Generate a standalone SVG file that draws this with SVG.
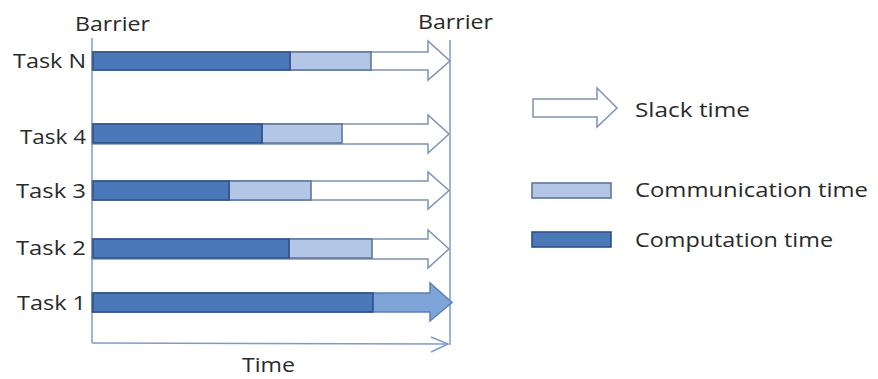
<svg xmlns="http://www.w3.org/2000/svg" width="878" height="379" viewBox="0 0 878 379">
<style>
text{font-family:"Open Sans","Liberation Sans",sans-serif;font-size:20px;fill:#2a2a2a}
.comp{fill:#4a78b8;stroke:#2f5288;stroke-width:1.6}
.comm{fill:#b3c6e5;stroke:#5f769c;stroke-width:1.6}
.slack{fill:#fff;stroke:#7f93b4;stroke-width:1.5}
.slack1{fill:#7fa4d8;stroke:#5c7fb5;stroke-width:1.5}
.axis{fill:none;stroke:#7f9cc8;stroke-width:1.5}
</style>
<rect width="878" height="379" fill="#fff"/>
<g id="axes">
<line class="axis" x1="92" y1="38" x2="92" y2="343"/>
<line class="axis" x1="450" y1="40" x2="450" y2="345"/>
<polyline class="axis" points="92,343 448,344"/>
<polyline class="axis" points="431,337 448,344 431,352"/>
</g>
<g id="labels">
<text x="75" y="31" textLength="75" lengthAdjust="spacingAndGlyphs">Barrier</text>
<text x="418" y="29" textLength="75" lengthAdjust="spacingAndGlyphs">Barrier</text>
<text x="242" y="372" textLength="53" lengthAdjust="spacingAndGlyphs">Time</text>
</g>
<g id="taskN">
<text x="13" y="68" textLength="73" lengthAdjust="spacingAndGlyphs">Task N</text>
<path class="slack" d="M92,52 H428 V41 L450,61 L428,80 V70 H92 Z"/>
<rect class="comm" x="290" y="52" width="81" height="18"/>
<rect class="comp" x="93" y="52" width="197" height="18"/>
</g>
<g id="task4">
<text x="20" y="144" textLength="66" lengthAdjust="spacingAndGlyphs">Task 4</text>
<path class="slack" d="M92,124 H428 V115 L449,134 L428,153 V144 H92 Z"/>
<rect class="comm" x="262" y="124" width="80" height="19"/>
<rect class="comp" x="93" y="124" width="169" height="19"/>
</g>
<g id="task3">
<text x="16" y="198" textLength="70" lengthAdjust="spacingAndGlyphs">Task 3</text>
<path class="slack" d="M92,181 H428 V172 L449,190.5 L428,209 V200 H92 Z"/>
<rect class="comm" x="229" y="181" width="82" height="19"/>
<rect class="comp" x="93" y="181" width="136" height="19"/>
</g>
<g id="task2">
<text x="16" y="255" textLength="70" lengthAdjust="spacingAndGlyphs">Task 2</text>
<path class="slack" d="M92,239 H428 V230 L449,249 L428,268 V259 H92 Z"/>
<rect class="comm" x="289" y="239" width="83" height="19"/>
<rect class="comp" x="93" y="239" width="196" height="19"/>
</g>
<g id="task1">
<text x="17" y="310" textLength="69" lengthAdjust="spacingAndGlyphs">Task 1</text>
<path class="slack1" d="M92,293 H430 V283 L452,302.5 L430,321 V312 H92 Z"/>
<rect class="comp" x="93" y="293" width="280" height="19"/>
</g>
<g id="legend-slack">
<path class="slack" d="M533,99 H597 V88 L617,108 L597,127 V117 H533 Z"/>
<text x="635" y="117" textLength="115" lengthAdjust="spacingAndGlyphs">Slack time</text>
</g>
<g id="legend-comm">
<rect class="comm" x="532" y="183" width="79" height="15"/>
<text x="635" y="197" textLength="233" lengthAdjust="spacingAndGlyphs">Communication time</text>
</g>
<g id="legend-comp">
<rect class="comp" x="532" y="232" width="79" height="15"/>
<text x="635" y="247" textLength="198" lengthAdjust="spacingAndGlyphs">Computation time</text>
</g>
</svg>
